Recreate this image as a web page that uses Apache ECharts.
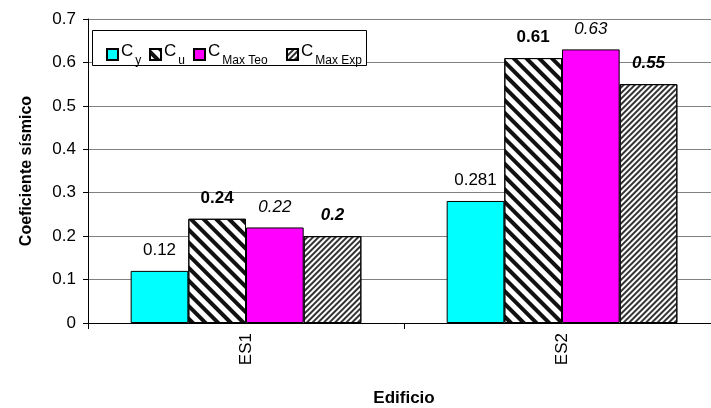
<!DOCTYPE html>
<html><head><meta charset="utf-8">
<script src="https://cdn.jsdelivr.net/npm/echarts@6/dist/echarts.min.js"></script>
<style>html,body{margin:0;padding:0;background:#fff}#c{width:711px;height:408px}</style>
</head><body><div id="c"></div>
<script>
var categories = ['ES1', 'ES2'];
var seriesNames = ['Cy', 'Cu', 'CMaxTeo', 'CMaxExp'];
var cy = [0.12, 0.281];
var cu = [0.24, 0.61];
var cMaxTeo = [0.22, 0.63];
var cMaxExp = [0.2, 0.55];
var yTicks = [0, 0.1, 0.2, 0.3, 0.4, 0.5, 0.6, 0.7];
var legendMain = {'Cy': 'C', 'Cu': 'C', 'CMaxTeo': 'C', 'CMaxExp': 'C'};
var legendSub = {'Cy': 'y', 'Cu': 'u', 'CMaxTeo': 'Max Teo', 'CMaxExp': 'Max Exp'};

var FONT = 'Liberation Sans';
var chart = echarts.init(document.getElementById('c'), null, {renderer: 'canvas'});

function labelStyle(weight, style) {
  return {show: true, position: 'top', distance: 12, color: '#000', fontFamily: FONT,
    fontSize: 17, fontWeight: weight, fontStyle: style,
    formatter: function (p) { return String(p.value); }};
}
var baseItem = {borderColor: '#000', borderWidth: 1};

var series = [
  {name: 'Cy', type: 'bar', data: cy, barGap: '0%', barCategoryGap: '27%',
   itemStyle: Object.assign({color: '#00FFFF'}, baseItem), label: labelStyle('normal', 'normal')},
  {name: 'Cu', type: 'bar', data: cu,
   itemStyle: Object.assign({color: '#fff', decal: {symbol: 'rect', symbolSize: 1, color: '#111',
     dashArrayX: [1, 0], dashArrayY: [3.5, 4.3], rotation: Math.PI / 4}}, baseItem),
   label: labelStyle('bold', 'normal')},
  {name: 'CMaxTeo', type: 'bar', data: cMaxTeo,
   itemStyle: Object.assign({color: '#FF00FF'}, baseItem), label: labelStyle('normal', 'italic')},
  {name: 'CMaxExp', type: 'bar', data: cMaxExp,
   itemStyle: Object.assign({color: '#fff', decal: {symbol: 'rect', symbolSize: 1, color: '#333',
     dashArrayX: [1, 0], dashArrayY: [1.4, 1.9], rotation: -Math.PI / 4}}, baseItem),
   label: labelStyle('bold', 'italic')}
];

var legendLefts = [101, 144, 188, 281];
var legends = seriesNames.map(function (n, i) {
  return {data: [n], left: legendLefts[i], top: 38, itemWidth: 11, itemHeight: 11, itemGap: 0,
    z: 20, selectedMode: false, icon: 'rect',
    formatter: function (name) { return '{m|' + legendMain[name] + '}{s|' + legendSub[name] + '}'; },
    textStyle: {padding: [0, 0, 0, -2], rich: {
      m: {fontFamily: FONT, fontSize: 17, color: '#000', padding: [0, 2, 6, 0]},
      s: {fontFamily: FONT, fontSize: 12, color: '#000', padding: [12, 0, 0, 0]}
    }}};
});

chart.setOption({
  animation: false,
  aria: {enabled: false, decal: {show: false}},
  grid: {left: 88, top: 19, bottom: 85, right: -9, containLabel: false, outerBoundsMode: 'none'},
  legend: legends,
  graphic: [{type: 'rect', z: 10, shape: {x: 92.5, y: 30.5, width: 274, height: 35},
    style: {fill: '#fff', stroke: '#000', lineWidth: 1}}],
  xAxis: {type: 'category', data: categories,
    axisLine: {lineStyle: {color: '#000', width: 1}},
    axisTick: {show: true, length: 6, lineStyle: {color: '#000'}},
    axisLabel: {rotate: 90, margin: 10, color: '#000', fontFamily: FONT, fontSize: 17},
    name: 'Edificio', nameLocation: 'middle', nameGap: 67,
    nameTextStyle: {fontFamily: FONT, fontSize: 17, fontWeight: 'bold', color: '#000'}},
  yAxis: {type: 'value', min: 0, max: 0.7, interval: 0.1,
    axisLine: {show: true, lineStyle: {color: '#000'}},
    axisTick: {show: true, length: 5, lineStyle: {color: '#000'}},
    axisLabel: {margin: 12, color: '#000', fontFamily: FONT, fontSize: 17,
      formatter: function (v) { var t = yTicks.find(function (x) { return Math.abs(x - v) < 1e-9; }); return t === undefined ? '' : String(t); }},
    splitLine: {show: true, lineStyle: {color: '#808080', width: 1}},
    name: 'Coeficiente sísmico', nameLocation: 'middle', nameGap: 53, nameRotate: 90,
    nameTextStyle: {fontFamily: FONT, fontSize: 16, fontWeight: 'bold', color: '#000'}},
  series: series
});
</script></body></html>
